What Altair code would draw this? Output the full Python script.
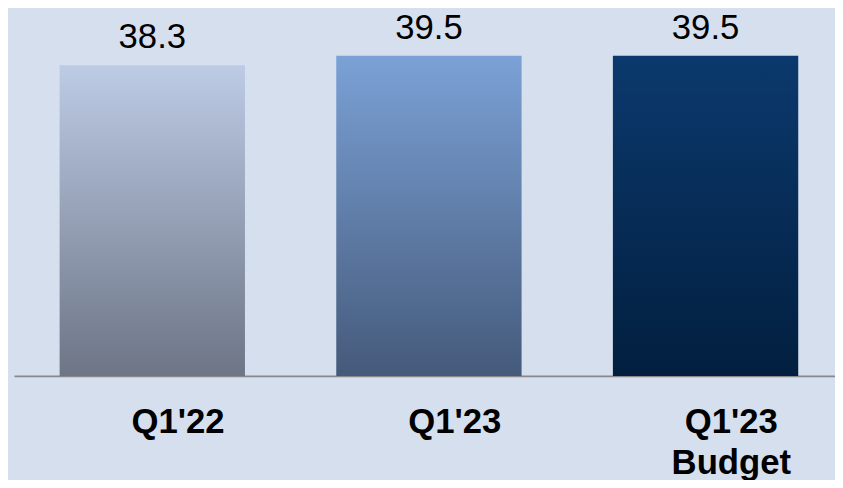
import altair as alt
import pandas as pd

# --- data -------------------------------------------------------------
categories = ["Q1'22", "Q1'23", "Q1'23 Budget"]
values = [38.3, 39.5, 39.5]

# --- styles (kept apart from the data) -------------------------------
bar_gradients = [
    ("#bdcbe5", "#6d7586"),
    ("#7ba1d6", "#455a7b"),
    ("#0b396d", "#021f3f"),
]

df = pd.DataFrame({"cat": categories, "value": values})

xscale = alt.Scale(domain=categories, paddingInner=0.33, paddingOuter=0.149, align=0.554)
yscale = alt.Scale(domain=[0, 45.13], nice=False, zero=True)

x_enc = alt.X(
    "cat:N",
    scale=xscale,
    sort=categories,
    axis=alt.Axis(
        title=None,
        labelAngle=0,
        ticks=False,
        tickSize=0,
        grid=False,
        domainColor="#898989",
        domainWidth=2,
        labelFont="Liberation Sans",
        labelFontSize=35,
        labelFontWeight="bold",
        labelColor="#000000",
        labelPadding=29,
        labelOffset=26,
        labelBaseline="top",
        labelLineHeight=41,
        labelOverlap=False,
        labelLimit=300,
        labelExpr="split(datum.label, ' ')",
    ),
)
y_enc = alt.Y("value:Q", scale=yscale, axis=None)

base = alt.Chart(df)

layers = []
for cat, (top, bottom) in zip(categories, bar_gradients):
    grad = alt.LinearGradient(
        gradient="linear",
        stops=[alt.GradientStop(color=top, offset=0), alt.GradientStop(color=bottom, offset=1)],
        x1=0, x2=0, y1=0, y2=1,
    )
    layers.append(
        base.transform_filter(alt.FieldEqualPredicate(field="cat", equal=cat))
        .mark_bar(color=grad)
        .encode(x=x_enc, y=y_enc)
    )

labels = base.mark_text(
    font="Liberation Sans", fontSize=35, baseline="alphabetic", dy=-17, color="#000000"
).encode(x=x_enc, y=y_enc, text=alt.Text("value:Q", format=".1f"))

chart = (
    alt.layer(*layers, labels)
    .properties(
        width=828,
        height=369,
        background="#d5dfee",
        padding={"left": 6, "top": 0, "right": 0, "bottom": 103},
        autosize=alt.AutoSizeParams(type="none"),
    )
    .configure_view(strokeWidth=0)
)

chart.save("out.html", embed_options={"renderer": "svg", "actions": False})
